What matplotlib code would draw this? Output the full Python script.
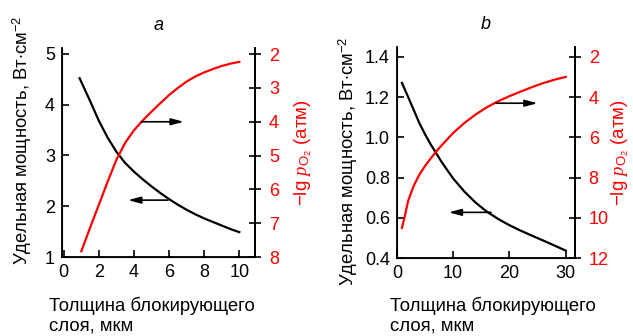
import matplotlib
matplotlib.use("Agg")
import matplotlib.pyplot as plt

plt.rcParams["font.family"] = ["Liberation Sans", "DejaVu Sans"]
plt.rcParams["mathtext.fontset"] = "custom"
plt.rcParams["mathtext.rm"] = "Liberation Sans"
plt.rcParams["mathtext.it"] = "Liberation Serif:italic"

RED = "#ff0000"

# panel a
a_x_black = [0.9, 1.5, 2, 2.5, 3, 3.5, 4, 4.5, 5, 5.5, 6, 6.5, 7, 7.5, 8, 8.5, 9, 9.5, 10]
a_y_black = [4.52, 4.07, 3.68, 3.35, 3.07, 2.85, 2.68, 2.53, 2.39, 2.26, 2.14, 2.03,
             1.93, 1.84, 1.76, 1.69, 1.62, 1.55, 1.49]
a_x_red = [1, 1.5, 2, 2.5, 3, 3.5, 4, 4.5, 5, 5.5, 6, 6.5, 7, 7.5, 8, 8.5, 9, 9.5, 10]
a_y_red = [7.83, 7.13, 6.45, 5.77, 5.12, 4.62, 4.25, 3.96, 3.70, 3.45, 3.21, 3.00,
           2.81, 2.66, 2.54, 2.44, 2.35, 2.28, 2.23]

# panel b
b_x_black = [0.9, 2, 3, 4, 5, 6, 7, 8, 9, 10, 12, 14, 16, 18, 20, 22, 24, 26, 28, 30]
b_y_black = [1.27, 1.20, 1.135, 1.07, 1.015, 0.965, 0.92, 0.875, 0.835, 0.795, 0.73,
             0.675, 0.630, 0.594, 0.563, 0.536, 0.511, 0.487, 0.462, 0.437]
b_x_red = [0.9, 1.5, 2, 3, 4, 5, 6, 7, 8, 10, 12, 14, 16, 18, 20, 22, 24, 26, 28, 30]
b_y_red = [10.5, 9.8, 9.15, 8.4, 7.85, 7.42, 7.05, 6.70, 6.38, 5.78, 5.28, 4.86, 4.5,
           4.2, 3.95, 3.72, 3.5, 3.3, 3.13, 2.99]

a_xticks = [0, 2, 4, 6, 8, 10]
a_lticks = [1, 2, 3, 4, 5]
a_rticks = [2, 3, 4, 5, 6, 7, 8]
b_xticks = [0, 10, 20, 30]
b_lticks = [0.4, 0.6, 0.8, 1.0, 1.2, 1.4]
b_rticks = [2, 4, 6, 8, 10, 12]

LEFT_LABEL = "Удельная мощность, Вт$\\cdot$см$^{-2}$"
RIGHT_LABEL = "$-$lg $p_{\\mathrm{O_2}}$ (атм)"
X_LABEL = "Толщина блокирующего\nслоя, мкм"


def arrow(ax, x0, x1, y):
    ax.annotate("", xy=(x1, y), xytext=(x0, y),
                arrowprops=dict(arrowstyle="-|>,head_length=0.75,head_width=0.2",
                                color="black", lw=1.2, shrinkA=0, shrinkB=0))


def panel(fig, rect, title, xb, yb, xr, yr, xlim, llim, rlim,
          xticks, lticks, rticks, ltickfmt, arrow_r, arrow_l,
          lab_l, lab_r, xlab_x):
    ax = fig.add_axes(rect)
    ax.plot(xb, yb, color="black", lw=1.6)
    ax.set_xlim(*xlim)
    ax.set_ylim(*llim)
    ax.set_xticks(xticks)
    ax.set_yticks(lticks)
    ax.set_yticklabels([ltickfmt(v) for v in lticks])
    ax.spines["top"].set_visible(False)
    ax.tick_params(direction="in", length=5, width=1.2, labelsize=13, pad=5)
    for s in ax.spines.values():
        s.set_linewidth(1.3)

    ax2 = ax.twinx()
    ax2.plot(xr, yr, color=RED, lw=1.6)
    ax2.set_ylim(*rlim)
    ax2.set_yticks(rticks)
    ax2.spines["top"].set_visible(False)
    ax2.spines["right"].set_linewidth(1.3)
    ax2.tick_params(direction="inout", length=8, width=1.2, labelsize=13,
                    labelcolor=RED, pad=6)

    ax.set_ylabel(LEFT_LABEL, fontsize=13.3)
    ax.yaxis.set_label_coords(*lab_l)
    ax2.set_ylabel(RIGHT_LABEL, fontsize=13.5, color=RED)
    ax2.yaxis.set_label_coords(*lab_r)

    arrow(ax2, *arrow_r)
    arrow(ax, *arrow_l)

    ax.set_title(title, style="italic", fontsize=13, pad=13)
    fig.text(xlab_x, 0.118, X_LABEL, fontsize=13.3, ha="left", va="top",
             linespacing=1.2)
    return ax


fig = plt.figure(figsize=(6.33, 3.36), dpi=100)

panel(fig, [0.098, 0.235, 0.305, 0.623], "a",
      a_x_black, a_y_black, a_x_red, a_y_red,
      (-0.1, 10.9), (1, 5.12), (8, 1.81),
      a_xticks, a_lticks, a_rticks, lambda v: f"{v:g}",
      (4.42, 6.84, 4.0), (5.94, 3.66, 2.12),
      (-0.145, 0.56), (1.19, 0.5), 0.077)

panel(fig, [0.627, 0.232, 0.281, 0.629], "b",
      b_x_black, b_y_black, b_x_red, b_y_red,
      (0.1, 31.6), (0.4, 1.45), (12, 1.49),
      b_xticks, b_lticks, b_rticks, lambda v: f"{v:.1f}",
      (17.6, 25.0, 4.3), (16.7, 9.2, 0.627),
      (-0.208, 0.46), (1.195, 0.5), 0.616)

fig.savefig("out.png", dpi=100)
